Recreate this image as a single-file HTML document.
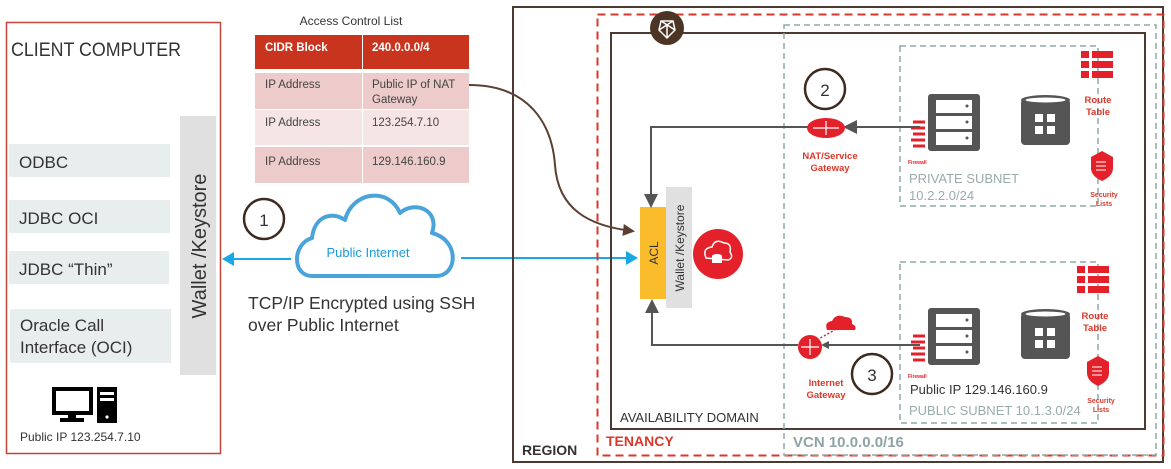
<!DOCTYPE html>
<html><head><meta charset="utf-8"><style>
html,body{margin:0;padding:0;background:#fff;}
svg{display:block;font-family:"Liberation Sans",sans-serif;}
</style></head><body>
<svg width="1171" height="469" viewBox="0 0 1171 469" xmlns="http://www.w3.org/2000/svg">
<defs>
<marker id="ag" markerWidth="8" markerHeight="8" refX="6" refY="4" orient="auto" markerUnits="userSpaceOnUse"><path d="M0,0 L8,4 L0,8 z" fill="#555"/></marker>
<marker id="ab" markerWidth="12" markerHeight="12" refX="9" refY="6" orient="auto" markerUnits="userSpaceOnUse"><path d="M0,0 L12,6 L0,12 z" fill="#5a4033"/></marker>
<marker id="abl" markerWidth="12" markerHeight="14" refX="10" refY="7" orient="auto" markerUnits="userSpaceOnUse"><path d="M0,0 L12,7 L0,14 z" fill="#1aa7e6"/></marker>
<marker id="agl" markerWidth="14" markerHeight="14" refX="11" refY="7" orient="auto" markerUnits="userSpaceOnUse"><path d="M0,0 L14,7 L0,14 z" fill="#555"/></marker>
</defs>

<rect x="6.5" y="22.5" width="214" height="431" fill="#fff" stroke="#c0463a" stroke-width="1.5"/>
<text x="11" y="56" font-size="19" fill="#333" textLength="170" lengthAdjust="spacingAndGlyphs">CLIENT COMPUTER</text>
<rect x="9" y="144" width="161" height="33" fill="#e8eeee"/>
<text x="19" y="168" font-size="17" fill="#333">ODBC</text>
<rect x="9" y="200" width="161" height="33" fill="#e8eeee"/>
<text x="19" y="224" font-size="17" fill="#333">JDBC OCI</text>
<rect x="9" y="251" width="160" height="33" fill="#e8eeee"/>
<text x="19" y="275" font-size="17" fill="#333">JDBC “Thin”</text>
<rect x="10" y="309" width="161" height="54" fill="#e8eeee"/>
<text x="20" y="331" font-size="17" fill="#333">Oracle Call</text>
<text x="20" y="353" font-size="17" fill="#333">Interface (OCI)</text>
<rect x="180" y="116" width="36" height="259" fill="#e0e0e0"/>
<text transform="translate(206,246) rotate(-90)" text-anchor="middle" font-size="20" fill="#333">Wallet /Keystore</text>
<rect x="54" y="389" width="37" height="24" fill="none" stroke="#000" stroke-width="4"/>
<rect x="68" y="413" width="8" height="5" fill="#000"/>
<rect x="60" y="418" width="24" height="4" fill="#000"/>
<rect x="97" y="387" width="20" height="36" fill="#000"/>
<rect x="100" y="392" width="14" height="3" fill="#fff"/>
<rect x="100" y="398" width="14" height="3" fill="#fff"/>
<circle cx="107" cy="417" r="1.6" fill="#fff"/>
<text x="20" y="441" font-size="12" fill="#333">Public IP 123.254.7.10</text>

<text x="351" y="25" text-anchor="middle" font-size="12" fill="#333">Access Control List</text>
<rect x="255" y="35" width="107" height="34" fill="#c9341f"/>
<rect x="363" y="35" width="106" height="34" fill="#c9341f"/>
<text x="265" y="51" font-size="11.5" font-weight="bold" fill="#fff">CIDR Block</text>
<text x="372" y="51" font-size="11.5" font-weight="bold" fill="#fff">240.0.0.0/4</text>
<rect x="255" y="73" width="107" height="36" fill="#eccbca"/>
<rect x="363" y="73" width="106" height="36" fill="#eccbca"/>
<rect x="255" y="110" width="107" height="35" fill="#f6e5e5"/>
<rect x="363" y="110" width="106" height="35" fill="#f6e5e5"/>
<rect x="255" y="147" width="107" height="36" fill="#eccbca"/>
<rect x="363" y="147" width="106" height="36" fill="#eccbca"/>
<g font-size="11.5" fill="#444">
<text x="265" y="88">IP Address</text><text x="372" y="88">Public IP of NAT</text><text x="372" y="103">Gateway</text>
<text x="265" y="126">IP Address</text><text x="372" y="126">123.254.7.10</text>
<text x="265" y="165">IP Address</text><text x="372" y="165">129.146.160.9</text>
</g>

<circle cx="264" cy="219" r="20" fill="none" stroke="#3e2a20" stroke-width="2.5"/>
<text x="264" y="226" text-anchor="middle" font-size="17" fill="#333">1</text>

<path d="M312,276 C292,276 292,244 312,238 C314,218 330,210 345,220 C352,192 388,186 400,213 C415,200 440,210 432,233 C460,240 458,276 436,276 Z" fill="#fff" stroke="#4aa3d9" stroke-width="4" stroke-linejoin="round"/>
<text x="368" y="257" text-anchor="middle" font-size="13" fill="#1a9ad9">Public Internet</text>
<line x1="291" y1="259" x2="224" y2="259" stroke="#1aa7e6" stroke-width="2" marker-end="url(#abl)"/>
<line x1="461" y1="258" x2="636" y2="258" stroke="#1aa7e6" stroke-width="2" marker-end="url(#abl)"/>
<text x="248" y="309" font-size="17.5" fill="#333">TCP/IP Encrypted using SSH</text>
<text x="248" y="331" font-size="17.5" fill="#333">over Public Internet</text>

<rect x="513" y="7" width="650" height="455" fill="none" stroke="#4d3b33" stroke-width="2"/>
<text x="522" y="455" font-size="14" font-weight="bold" fill="#333">REGION</text>
<rect x="597.5" y="14.5" width="566" height="441" fill="none" stroke="#d9392b" stroke-width="2" stroke-dasharray="8,5"/>
<text x="606" y="446" font-size="14" font-weight="bold" fill="#d9392b">TENANCY</text>
<rect x="611" y="33" width="534" height="396" fill="none" stroke="#4d3b33" stroke-width="2"/>
<text x="620" y="422" font-size="13" fill="#333">AVAILABILITY DOMAIN</text>
<rect x="784" y="25" width="372" height="430" fill="none" stroke="#8fa9a8" stroke-width="1.5" stroke-dasharray="6,4"/>
<text x="793" y="447" font-size="15" font-weight="bold" fill="#8fa3a6">VCN 10.0.0.0/16</text>
<circle cx="667" cy="28" r="17" fill="#4d3526"/>
<g stroke="#fff" stroke-width="1.5" fill="none"><path d="M661,21 L673,21 L675,30 L667,38 L659,30 Z M661,21 L675,30 M673,21 L659,30 M667,38 L667,24"/></g>

<rect x="900" y="46" width="198" height="160" fill="none" stroke="#8fa9a8" stroke-width="1.5" stroke-dasharray="6,4"/>
<rect x="900" y="262" width="198" height="161" fill="none" stroke="#8fa9a8" stroke-width="1.5" stroke-dasharray="6,4"/>
<text x="909" y="183" font-size="13" fill="#9aabab">PRIVATE SUBNET</text>
<text x="909" y="200" font-size="13" fill="#9aabab">10.2.2.0/24</text>
<text x="910" y="394" font-size="13" fill="#333">Public IP 129.146.160.9</text>
<text x="909" y="415" font-size="13" fill="#9aabab">PUBLIC SUBNET 10.1.3.0/24</text>

<g id="srv">
<rect x="928" y="94" width="52" height="57" rx="3" fill="#555"/>
<rect x="936" y="100" width="36" height="13" fill="#fff"/><rect x="936" y="116" width="36" height="13" fill="#fff"/><rect x="936" y="132" width="36" height="13" fill="#fff"/>
<circle cx="967" cy="106" r="1.5" fill="#555"/><circle cx="967" cy="122" r="1.5" fill="#555"/><circle cx="967" cy="138" r="1.5" fill="#555"/>
<path d="M913,122 h12 M911,128 h14 M913,134 h12 M911,140 h14 M913,146 h12" stroke="#e4202a" stroke-width="3"/>
<text x="908" y="164" font-size="5" font-weight="bold" fill="#e4202a">Firewall</text>
<rect x="1021" y="99" width="49" height="46" rx="4" fill="#555"/>
<ellipse cx="1045.5" cy="100" rx="24.5" ry="5" fill="#555"/>
<ellipse cx="1045.5" cy="100" rx="20" ry="2.5" fill="#fff"/>
<rect x="1035" y="114" width="8" height="8" fill="#fff"/><rect x="1047" y="114" width="8" height="8" fill="#fff"/>
<rect x="1035" y="126" width="8" height="8" fill="#fff"/><rect x="1047" y="126" width="8" height="8" fill="#fff"/>
</g>
<use href="#srv" y="214"/>

<g id="rt" fill="#e4202a">
<rect x="1081" y="51" width="8" height="7"/><rect x="1092" y="51" width="21" height="7"/>
<rect x="1081" y="61" width="8" height="7"/><rect x="1092" y="61" width="21" height="7"/>
<rect x="1081" y="71" width="8" height="7"/><rect x="1092" y="71" width="21" height="7"/>
</g>
<use href="#rt" x="-4" y="215"/>
<g font-size="9.5" font-weight="bold" fill="#d9392b" text-anchor="middle">
<text x="1098" y="103">Route</text><text x="1098" y="115">Table</text>
<text x="1095" y="319">Route</text><text x="1095" y="331">Table</text>
</g>
<g id="sh"><path d="M1091,157 L1102,151 L1113,157 L1113,168 Q1113,176 1102,181 Q1091,176 1091,168 Z" fill="#e4202a"/>
<path d="M1096,162 h10 M1096,166 h10 M1096,170 h10" stroke="#fff" stroke-width="1"/></g>
<use href="#sh" x="-4" y="205"/>
<g font-size="7" font-weight="bold" fill="#d9392b" text-anchor="middle">
<text x="1104" y="197">Security</text><text x="1104" y="206">Lists</text>
<text x="1101" y="403">Security</text><text x="1101" y="412">Lists</text>
</g>

<rect x="640" y="207" width="26" height="92" fill="#fbbc2c"/>
<text transform="translate(658,253) rotate(-90)" text-anchor="middle" font-size="12" fill="#333">ACL</text>
<rect x="666" y="187" width="26" height="121" fill="#e0e0e0"/>
<text transform="translate(684,248) rotate(-90)" text-anchor="middle" font-size="12" fill="#333">Wallet /Keystore</text>
<circle cx="718" cy="254" r="25" fill="#e4202a"/>
<path d="M706,258 Q702,248 712,247 Q715,238 724,243 Q732,243 730,252 Q734,258 728,260 Z" fill="none" stroke="#fff" stroke-width="1.5"/>
<ellipse cx="717" cy="256" rx="5" ry="2" fill="#fff"/><rect x="712" y="256" width="10" height="7" fill="#fff"/>

<path d="M469,85 C530,85 552,125 555,165 C558,210 590,226 632,231" fill="none" stroke="#5a4033" stroke-width="2" marker-end="url(#ab)"/>

<circle cx="825" cy="89" r="20" fill="none" stroke="#3e2a20" stroke-width="2.5"/>
<text x="825" y="96" text-anchor="middle" font-size="17" fill="#333">2</text>
<line x1="920" y1="127" x2="846" y2="127" stroke="#555" stroke-width="2" marker-end="url(#agl)"/>
<polyline points="809,127 651,127 651,205" fill="none" stroke="#555" stroke-width="2" marker-end="url(#agl)"/>
<ellipse cx="826" cy="128" rx="19" ry="10" fill="#e4202a"/>
<path d="M813,128 h26 M826,121 v14" stroke="#fff" stroke-width="1.2"/>
<g font-size="9.5" font-weight="bold" fill="#d9392b" text-anchor="middle">
<text x="830" y="159">NAT/Service</text><text x="830" y="171">Gateway</text>
<text x="826" y="386">Internet</text><text x="826" y="398">Gateway</text>
</g>

<polyline points="798,345 652,345 652,302" fill="none" stroke="#555" stroke-width="2" marker-end="url(#agl)"/>
<line x1="920" y1="345" x2="823" y2="345" stroke="#555" stroke-width="2" marker-end="url(#ag)"/>
<circle cx="810" cy="347" r="12" fill="#e4202a"/>
<path d="M801,347 h18 M810,339 v16" stroke="#fff" stroke-width="1.2"/>
<path d="M817,340 L838,328" stroke="#e4202a" stroke-width="1.5" stroke-dasharray="2,2"/>
<path d="M827,330 Q824,322 832,321 Q836,313 845,317 Q853,317 852,324 Q857,326 855,330 Z" fill="#e4202a"/>
<circle cx="872" cy="374" r="20" fill="none" stroke="#3e2a20" stroke-width="2.5"/>
<text x="872" y="381" text-anchor="middle" font-size="17" fill="#333">3</text>
</svg>
</body></html>
